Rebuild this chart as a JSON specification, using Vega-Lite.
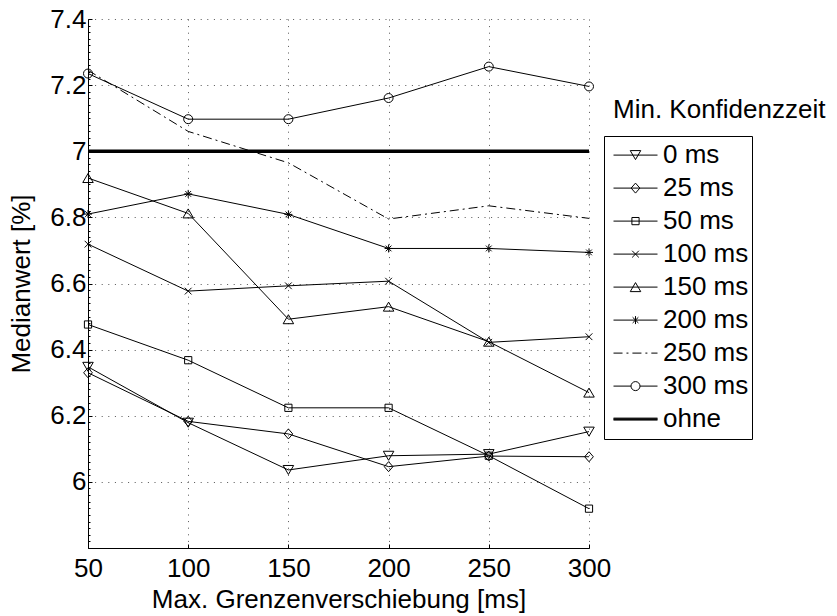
{
  "$schema": "https://vega.github.io/schema/vega-lite/v6.json",
  "width": 501,
  "height": 529,
  "autosize": {"type": "none"},
  "padding": {"left": 88, "top": 19, "right": 248, "bottom": 68},
  "background": "white",
  "config": {
    "font": "Liberation Sans",
    "view": {"stroke": null},
    "axis": {
      "labelFont": "Liberation Sans",
      "titleFont": "Liberation Sans",
      "labelFontSize": 26,
      "titleFontSize": 26,
      "titleFontWeight": "normal",
      "labelColor": "black",
      "titleColor": "black",
      "domainColor": "black",
      "domainWidth": 1,
      "tickColor": "black",
      "tickSize": -4,
      "labelFlush": false,
      "gridColor": "#555",
      "gridDash": [1, 5.6],
      "gridWidth": 1
    },
    "legend": {
      "labelFont": "Liberation Sans",
      "labelFontSize": 26,
      "labelColor": "black"
    },
    "title": {"font": "Liberation Sans", "fontSize": 26, "fontWeight": "normal", "color": "black"}
  },
  "title": {
    "text": "Min. Konfidenzzeit",
    "anchor": "start",
    "frame": "group",
    "orient": "top",
    "baseline": "alphabetic",
    "dx": 525,
    "dy": 142
  },
  "datasets": {
    "median": [
      {"s": "0 ms", "x": 50, "y": 6.348}, {"s": "0 ms", "x": 100, "y": 6.179}, {"s": "0 ms", "x": 150, "y": 6.036},
      {"s": "0 ms", "x": 200, "y": 6.079}, {"s": "0 ms", "x": 250, "y": 6.084}, {"s": "0 ms", "x": 300, "y": 6.152},
      {"s": "25 ms", "x": 50, "y": 6.33}, {"s": "25 ms", "x": 100, "y": 6.183}, {"s": "25 ms", "x": 150, "y": 6.145},
      {"s": "25 ms", "x": 200, "y": 6.046}, {"s": "25 ms", "x": 250, "y": 6.078}, {"s": "25 ms", "x": 300, "y": 6.076},
      {"s": "50 ms", "x": 50, "y": 6.476}, {"s": "50 ms", "x": 100, "y": 6.368}, {"s": "50 ms", "x": 150, "y": 6.224},
      {"s": "50 ms", "x": 200, "y": 6.224}, {"s": "50 ms", "x": 250, "y": 6.079}, {"s": "50 ms", "x": 300, "y": 5.919},
      {"s": "100 ms", "x": 50, "y": 6.719}, {"s": "100 ms", "x": 100, "y": 6.577}, {"s": "100 ms", "x": 150, "y": 6.593},
      {"s": "100 ms", "x": 200, "y": 6.607}, {"s": "100 ms", "x": 250, "y": 6.422}, {"s": "100 ms", "x": 300, "y": 6.439},
      {"s": "150 ms", "x": 50, "y": 6.919}, {"s": "150 ms", "x": 100, "y": 6.812}, {"s": "150 ms", "x": 150, "y": 6.492},
      {"s": "150 ms", "x": 200, "y": 6.53}, {"s": "150 ms", "x": 250, "y": 6.424}, {"s": "150 ms", "x": 300, "y": 6.27},
      {"s": "200 ms", "x": 50, "y": 6.81}, {"s": "200 ms", "x": 100, "y": 6.871}, {"s": "200 ms", "x": 150, "y": 6.809},
      {"s": "200 ms", "x": 200, "y": 6.706}, {"s": "200 ms", "x": 250, "y": 6.706}, {"s": "200 ms", "x": 300, "y": 6.694},
      {"s": "250 ms", "x": 50, "y": 7.245}, {"s": "250 ms", "x": 100, "y": 7.06}, {"s": "250 ms", "x": 150, "y": 6.965},
      {"s": "250 ms", "x": 200, "y": 6.795}, {"s": "250 ms", "x": 250, "y": 6.835}, {"s": "250 ms", "x": 300, "y": 6.797},
      {"s": "300 ms", "x": 50, "y": 7.235}, {"s": "300 ms", "x": 100, "y": 7.097}, {"s": "300 ms", "x": 150, "y": 7.097},
      {"s": "300 ms", "x": 200, "y": 7.161}, {"s": "300 ms", "x": 250, "y": 7.256}, {"s": "300 ms", "x": 300, "y": 7.196},
      {"s": "ohne", "x": 50, "y": 7.0}, {"s": "ohne", "x": 300, "y": 7.0}
    ]
  },
  "data": {"name": "median"},
  "encoding": {
    "x": {
      "field": "x", "type": "quantitative",
      "scale": {"domain": [50, 300], "nice": false, "zero": false},
      "axis": {
        "title": "Max. Grenzenverschiebung [ms]",
        "values": [50, 100, 150, 200, 250, 300],
        "format": "d",
        "grid": true,
        "labelPadding": 11,
        "titlePadding": 5
      }
    },
    "y": {
      "field": "y", "type": "quantitative",
      "scale": {"domain": [5.8, 7.4], "nice": false, "zero": false},
      "axis": {
        "title": "Medianwert [%]",
        "values": [5.8, 5.82, 5.84, 5.86, 5.88, 5.9, 5.92, 5.94, 5.96, 5.98,
                   6, 6.02, 6.04, 6.06, 6.08, 6.1, 6.12, 6.14, 6.16, 6.18,
                   6.2, 6.22, 6.24, 6.26, 6.28, 6.3, 6.32, 6.34, 6.36, 6.38,
                   6.4, 6.42, 6.44, 6.46, 6.48, 6.5, 6.52, 6.54, 6.56, 6.58,
                   6.6, 6.62, 6.64, 6.66, 6.68, 6.7, 6.72, 6.74, 6.76, 6.78,
                   6.8, 6.82, 6.84, 6.86, 6.88, 6.9, 6.92, 6.94, 6.96, 6.98,
                   7, 7.02, 7.04, 7.06, 7.08, 7.1, 7.12, 7.14, 7.16, 7.18,
                   7.2, 7.22, 7.24, 7.26, 7.28, 7.3, 7.32, 7.34, 7.36, 7.38, 7.4],
        "labelExpr": "(abs(datum.value * 5 - round(datum.value * 5)) < 1e-6 && datum.value > 5.9) ? format(datum.value, '~g') : ''",
        "grid": true,
        "gridOpacity": {
          "condition": {"test": "abs(datum.value * 5 - round(datum.value * 5)) < 1e-6 && datum.value > 5.9", "value": 1},
          "value": 0
        },
        "tickSize": {
          "condition": {"test": "abs(datum.value * 5 - round(datum.value * 5)) < 1e-6", "value": -4},
          "value": -2
        },
        "labelPadding": 6,
        "titlePadding": 15
      }
    }
  },
  "layer": [
    {
      "transform": [{"filter": "datum.s !== '250 ms' && datum.s !== 'ohne'"}],
      "mark": {"type": "line", "color": "black", "strokeWidth": 1},
      "encoding": {"detail": {"field": "s", "type": "nominal"}}
    },
    {
      "transform": [{"filter": "datum.s === '250 ms'"}],
      "mark": {"type": "line", "color": "black", "strokeWidth": 1, "strokeDash": [9, 4, 2, 4]},
      "encoding": {}
    },
    {
      "transform": [{"filter": "datum.s === 'ohne'"}],
      "mark": {"type": "line", "color": "black", "strokeWidth": 3.6},
      "encoding": {}
    },
    {
      "transform": [{"filter": "datum.s !== '250 ms' && datum.s !== 'ohne'"}],
      "mark": {"type": "point", "filled": false, "stroke": "black", "strokeWidth": 1, "size": 100, "opacity": 1},
      "encoding": {
        "shape": {
          "field": "s", "type": "nominal", "legend": null,
          "scale": {
            "domain": ["0 ms", "25 ms", "50 ms", "100 ms", "150 ms", "200 ms", "300 ms"],
            "range": [
              "M0,0.9L1.05,-0.9L-1.05,-0.9Z",
              "M0,-1L0.87,0L0,1L-0.87,0Z",
              "M-0.72,-0.72H0.72V0.72H-0.72Z",
              "M-0.67,-0.67L0.67,0.67M-0.67,0.67L0.67,-0.67",
              "M0,-0.9L1.05,0.9L-1.05,0.9Z",
              "M0,-0.8V0.8M-0.8,0H0.8M-0.57,-0.57L0.57,0.57M-0.57,0.57L0.57,-0.57",
              "M0.9,0A0.9,0.9 0 1,1 -0.9,0A0.9,0.9 0 1,1 0.9,0Z"
            ]
          }
        }
      }
    },
    {
      "mark": {"type": "point", "filled": false, "opacity": 0},
      "encoding": {
        "shape": {
          "field": "s", "type": "nominal",
          "scale": {
            "domain": ["0 ms", "25 ms", "50 ms", "100 ms", "150 ms", "200 ms", "250 ms", "300 ms", "ohne"],
            "range": [
              "M-1,0H1M0,0.205L0.239,-0.205L-0.239,-0.205Z",
              "M-1,0H1M0,-0.227L0.198,0L0,0.227L-0.198,0Z",
              "M-1,0H1M-0.164,-0.164H0.164V0.164H-0.164Z",
              "M-1,0H1M-0.152,-0.152L0.152,0.152M-0.152,0.152L0.152,-0.152",
              "M-1,0H1M0,-0.205L0.239,0.205L-0.239,0.205Z",
              "M-1,0H1M0,-0.182V0.182M-0.13,-0.13L0.13,0.13M-0.13,0.13L0.13,-0.13",
              "M-1,0H-0.59M-0.41,0H-0.32M-0.14,0H0.27M0.45,0H0.54M0.72,0H1",
              "M-1,0H-0.205M0.205,0H1M0.205,0A0.205,0.205 0 1,1 -0.205,0A0.205,0.205 0 1,1 0.205,0Z",
              "M-1,-0.045H1M-1,-0.015H1M-1,0.015H1M-1,0.045H1"
            ]
          },
          "legend": {
            "title": null,
            "orient": "none",
            "legendX": 516,
            "legendY": 117,
            "padding": 3,
            "strokeColor": "black",
            "fillColor": "white",
            "symbolSize": 1936,
            "symbolStrokeColor": "black",
            "symbolFillColor": "transparent",
            "symbolStrokeWidth": 1,
            "symbolOpacity": 1,
            "symbolOffset": 6,
            "labelOffset": 5,
            "rowPadding": 0,
            "clipHeight": 32.2
          }
        }
      }
    }
  ],
  "resolve": {"scale": {"shape": "independent"}, "legend": {"shape": "independent"}}
}
